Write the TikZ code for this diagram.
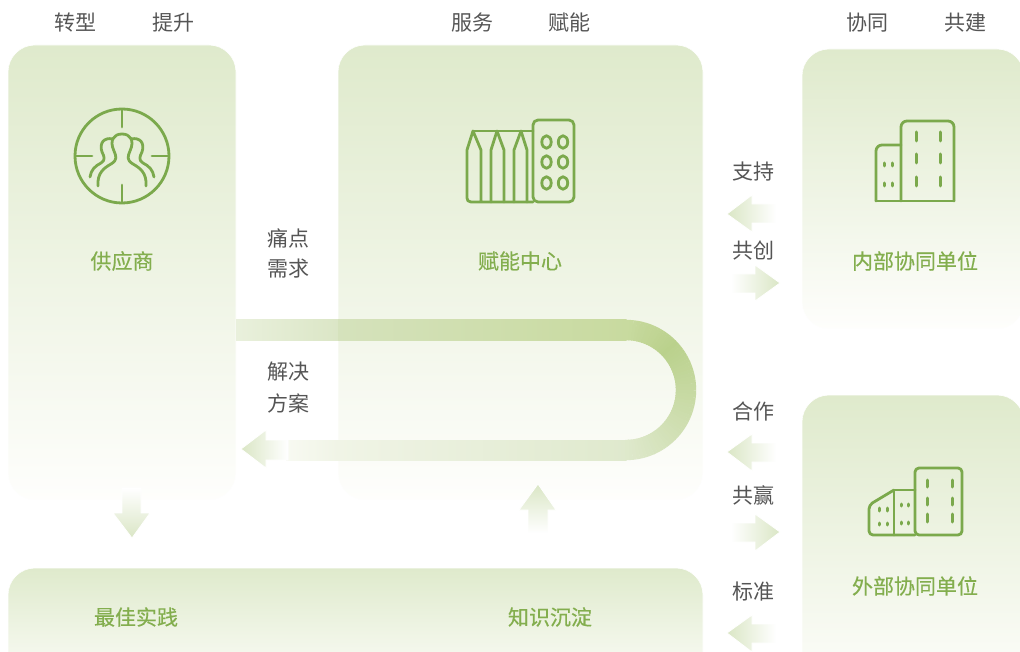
\documentclass[tikz,border=0pt]{standalone}
\usepackage{fontspec}
\setmainfont{Noto Sans CJK SC}
\newfontfamily\titlefont[FakeBold=0.4]{Noto Sans CJK SC}
\definecolor{iconc}{HTML}{7BA94C}
\definecolor{titlec}{HTML}{83AE4E}
\definecolor{labelc}{HTML}{555555}
\definecolor{paneltop}{HTML}{DFEACC}
\definecolor{panelend}{HTML}{FEFEFC}
\definecolor{arrowc}{HTML}{DAE6C5}
\definecolor{bandA}{HTML}{E9F0DC}
\definecolor{bandB}{HTML}{DBE6C6}
\definecolor{bandC}{HTML}{D5E2BC}
\definecolor{bandmid}{HTML}{C8DA9F}
\definecolor{banddark}{HTML}{BAD18C}
\definecolor{bandlow}{HTML}{DFE9CD}
\definecolor{bandD}{HTML}{F0F4E6}
\definecolor{bandend}{HTML}{F8FAF2}
\tikzset{
  panel/.style={anchor=north west,inner sep=0pt,outer sep=0pt,rounded corners=27pt,preaction={top color=paneltop,bottom color=panelend},draw=white,line width=0.6pt},
  lab/.style={font=\fontsize{21}{25}\selectfont,text=labelc,inner sep=0pt},
  ttl/.style={font=\titlefont\fontsize{21}{25}\selectfont,text=titlec,inner sep=0pt},
  ico/.style={draw=iconc,line width=2.8pt,line join=round,line cap=round},
  win/.style={draw=iconc,line width=3pt,line cap=round},
  toleft/.style={preaction={left color=arrowc,right color=white},draw=white,line width=0.8pt},
  toright/.style={preaction={left color=white,right color=arrowc},draw=white,line width=0.8pt},
  todown/.style={preaction={top color=white,bottom color=arrowc},draw=white,line width=0.8pt},
  toup/.style={preaction={top color=arrowc,bottom color=white},draw=white,line width=0.8pt},
}
\begin{document}
\begin{tikzpicture}[x=1pt,y=-1pt]
\path[use as bounding box] (0,0) rectangle (1020,652);
\clip (0,0) rectangle (1020,652);
% panels
\node[panel,minimum width=228pt,minimum height=455pt] (supplier) at (8,45) {};
\node[panel,minimum width=365pt,minimum height=455pt] (center) at (338,45) {};
\node[panel,minimum width=222pt,minimum height=280pt] (inner) at (802,49) {};
\node[panel,minimum width=222pt,minimum height=300pt] (outer) at (802,395) {};
\node[panel,minimum width=695pt,minimum height=125pt] (base) at (8,568) {};
% U band
\shade[left color=bandA,right color=bandB] (236,320) rectangle (338,340);
\shade[left color=bandC,right color=bandmid] (338,320) rectangle (626.5,340);
\shade[left color=bandend,right color=bandD] (286,440) rectangle (338,460);
\shade[left color=bandD,right color=bandlow] (338,440) rectangle (626.5,460);
\foreach \a in {-90,-87,...,87}{
  \pgfmathsetmacro\b{\a+3.6}
  \pgfmathsetmacro\p{\a<-45 ? (\a+90)/45*100 : (90-\a)/135*100}
  \ifdim\a pt<-45pt
    \colorlet{segc}{banddark!\p!bandmid}
  \else
    \colorlet{segc}{banddark!\p!bandlow}
  \fi
  \draw[segc,line width=20.4pt] ({626+60*cos(\a)},{390+60*sin(\a)}) -- ({626+60*cos(\b)},{390+60*sin(\b)});
}
\path[toleft] (241,449) -- (266,430) -- (266,440) -- (288,440) -- (288,460) -- (266,460) -- (266,468) -- cycle;
% small block arrows
\path[toleft] (727,214) -- (752,195) -- (752,204) -- (776,204) -- (776,223) -- (752,223) -- (752,232) -- cycle;
\path[toright] (780,283) -- (755,265) -- (755,274) -- (731,274) -- (731,293) -- (755,293) -- (755,301) -- cycle;
\path[toleft] (727,452) -- (752,434) -- (752,443) -- (776,443) -- (776,462) -- (752,462) -- (752,471) -- cycle;
\path[toright] (780,532) -- (755,514) -- (755,523) -- (731,523) -- (731,542) -- (755,542) -- (755,551) -- cycle;
\path[toleft] (727,633) -- (752,615) -- (752,624) -- (776,624) -- (776,643) -- (752,643) -- (752,652) -- cycle;
\path[todown] (132,538) -- (113,513) -- (122,513) -- (122,488) -- (141,488) -- (141,513) -- (150,513) -- cycle;
\path[toup] (538,484) -- (519,510) -- (528,510) -- (528,533) -- (548,533) -- (548,510) -- (556,510) -- cycle;
% supplier icon
\draw[ico] (122,156) circle[radius=47pt];
\draw[ico] (122,110) -- (122,127) (122,185) -- (122,202) (76,156) -- (92,156) (152,156) -- (168,156);
\draw[ico] (98,186) .. controls (97,173) and (104,168) .. (111,164) .. controls (118,160) and (116,156) .. (114,151)
  .. controls (109,140) and (114,134) .. (122,134) .. controls (130,134) and (135,140) .. (130,151)
  .. controls (128,156) and (126,160) .. (133,164) .. controls (140,168) and (147,173) .. (146,186);
\draw[ico] (90,177) .. controls (91,170) and (95,166) .. (101,163) .. controls (106,160) and (104,156) .. (102,152)
  .. controls (99,143) and (104,137) .. (113,139);
\draw[ico] (154,177) .. controls (153,170) and (149,166) .. (143,163) .. controls (138,160) and (140,156) .. (142,152)
  .. controls (145,143) and (140,137) .. (131,139);
% center icon
\draw[ico,rounded corners=5pt] (533,202) -- (533,120) -- (574,120) -- (574,202) -- cycle;
\foreach \ex in {546.5,563} \foreach \ey in {142,162,183}
  \draw[ico] (\ex,\ey) ellipse[x radius=4.7pt,y radius=6.3pt];
\draw[ico] (473,131) -- (533,131);
\draw[ico] (533,202) -- (471,202) .. controls (468,202) and (467,200) .. (467,198) -- (467,150) -- (473,131) -- (481,150) -- (481,202);
\draw[ico] (491,202) -- (491,150) -- (497,131) -- (504,150) -- (504,202);
\draw[ico] (514,202) -- (514,150) -- (521,131) -- (527,150) -- (527,202);
% inner unit icon
\draw[ico,rounded corners=6pt] (901,201) -- (901,121) -- (954,121) -- (954,201);
\draw[ico,rounded corners=6pt] (901,145) -- (876,145) -- (876,201);
\draw[ico] (876,201) -- (954,201);
\foreach \wx in {916,940} \foreach \wa/\wb in {132/141,154/163,177/186} \draw[win] (\wx,\wa) -- (\wx,\wb);
\foreach \wx in {884,892} \foreach \wa/\wb in {163/166,183/186} \draw[win] (\wx,\wa) -- (\wx,\wb);
% outer unit icon
\draw[ico,rounded corners=4pt] (915,535) -- (915,468) -- (962,468) -- (962,535) -- cycle;
\draw[ico] (915,490) -- (894,490) -- (894,535);
\draw[ico,rounded corners=4pt] (894,490) -- (869,505) -- (869,535) -- (915,535);
\foreach \wx in {927,952} \foreach \wa/\wb in {480/487,498/505,514/522} \draw[win] (\wx,\wa) -- (\wx,\wb);
\foreach \wx in {901,908} \foreach \wa/\wb in {504/506,522/524} \draw[win] (\wx,\wa) -- (\wx,\wb);
\foreach \wx in {879,887} \foreach \wa/\wb in {508/511,523/525} \draw[win] (\wx,\wa) -- (\wx,\wb);
% titles
\node[ttl] (tsupplier) at (122,261) {供应商};
\node[ttl] (tcenter) at (520,261) {赋能中心};
\node[ttl] (tinner) at (915,261) {内部协同单位};
\node[ttl] (touter) at (915,586) {外部协同单位};
\node[ttl] (tbest) at (136,617) {最佳实践};
\node[ttl] (tknow) at (550,617) {知识沉淀};
% labels
\node[lab] (l1) at (75.5,23) {转型};
\node[lab] (l2) at (173,23) {提升};
\node[lab] (l3) at (472,23) {服务};
\node[lab] (l4) at (569.5,23) {赋能};
\node[lab] (l5) at (867.5,23) {协同};
\node[lab] (l6) at (965.5,23) {共建};
\node[lab] (l7) at (288,238) {痛点};
\node[lab] (l8) at (288,269) {需求};
\node[lab] (l9) at (288,372) {解决};
\node[lab] (l10) at (288,403) {方案};
\node[lab] (l11) at (753,172) {支持};
\node[lab] (l12) at (753,251) {共创};
\node[lab] (l13) at (753,411) {合作};
\node[lab] (l14) at (753,495) {共赢};
\node[lab] (l15) at (753,592) {标准};
\end{tikzpicture}
\end{document}
